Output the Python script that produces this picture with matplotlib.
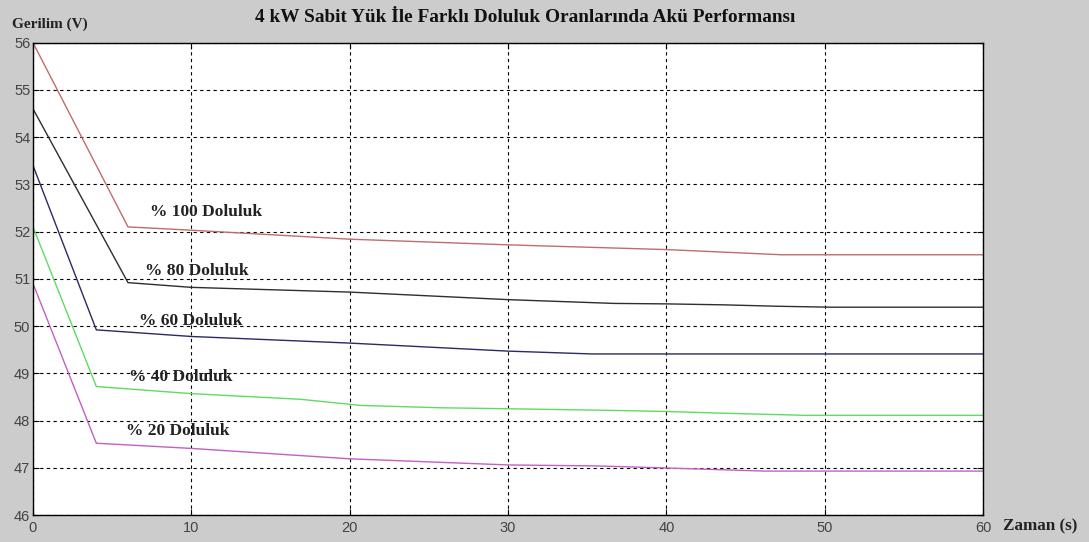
import numpy as np
import matplotlib.pyplot as plt

# ---------------------------------------------
# Data
# ---------------------------------------------
t_100 = [0, 6, 10, 20, 30, 40, 47.3, 60]
v_100 = [56.0, 52.1, 52.03, 51.84, 51.72, 51.62, 51.51, 51.51]

t_80 = [0, 6, 10, 20, 30, 36.7, 40, 43.6, 47, 50.4, 60]
v_80 = [54.6, 50.92, 50.82, 50.72, 50.56, 50.48, 50.47, 50.45, 50.42, 50.40, 50.40]

t_60 = [0, 4, 10, 20, 30, 35.3, 60]
v_60 = [53.4, 49.92, 49.78, 49.64, 49.47, 49.41, 49.41]

t_40 = [0, 4, 10, 16.9, 20.7, 25.8, 30, 37.4, 40.2, 43.1, 48.8, 60]
v_40 = [52.1, 48.72, 48.57, 48.45, 48.32, 48.27, 48.25, 48.21, 48.19, 48.16, 48.11, 48.11]

t_20 = [0, 4, 10, 20, 30, 35.5, 38.6, 46.2, 60]
v_20 = [50.9, 47.52, 47.41, 47.19, 47.06, 47.04, 47.01, 46.93, 46.93]

series = [
    (t_100, v_100, "#c26b6b"),
    (t_80, v_80, "#2e2e2e"),
    (t_60, v_60, "#2a2a66"),
    (t_40, v_40, "#5fdc5f"),
    (t_20, v_20, "#c45fc4"),
]

labels = ["% 100 Doluluk", "% 80 Doluluk", "% 60 Doluluk", "% 40 Doluluk", "% 20 Doluluk"]
label_t = [7.4, 7.1, 6.7, 6.05, 5.85]
label_v = [52.42, 51.17, 50.1, 48.93, 47.78]

xticks = [0, 10, 20, 30, 40, 50, 60]
yticks = [46, 47, 48, 49, 50, 51, 52, 53, 54, 55, 56]

# ---------------------------------------------
# Plot
# ---------------------------------------------
bg = "#cccccc"
serif = ["Liberation Serif", "DejaVu Serif"]

fig = plt.figure(figsize=(10.89, 5.42), dpi=100, facecolor=bg)
ax = fig.add_axes([0.0303, 0.0498, 0.8724, 0.8714])
ax.set_facecolor("white")

for t, v, c in series:
    ax.plot(t, v, color=c, linewidth=1.0)

for lab, lt, lv in zip(labels, label_t, label_v):
    ax.text(lt, lv, lab, fontsize=12.5, fontweight="bold", family=serif,
            color="#222222", ha="left", va="center")

ax.set_xlim(0, 60)
ax.set_ylim(46, 56)
ax.set_xticks(xticks)
ax.set_yticks(yticks)
ax.grid(True, color="black", linestyle=(0, (3, 3)), linewidth=0.8)
ax.tick_params(direction="in", length=4, top=True, right=True,
               labelsize=10.5, labelcolor="#444444")
ax.tick_params(axis="x", pad=4)
ax.tick_params(axis="y", pad=2)
for lbl in ax.get_xticklabels() + ax.get_yticklabels():
    lbl.set_family(["Liberation Sans", "DejaVu Sans"])
for s in ax.spines.values():
    s.set_color("black")
    s.set_linewidth(1.0)

fig.text(0.482, 0.968, "4 kW Sabit Yük İle Farklı Doluluk Oranlarında Akü Performansı",
         fontsize=13.9, fontweight="bold", family=serif, color="#111111",
         ha="center", va="center")
fig.text(0.011, 0.955, "Gerilim (V)", fontsize=11, fontweight="bold", family=serif,
         color="#222222", ha="left", va="center")
fig.text(0.921, 0.029, "Zaman (s)", fontsize=12.3, fontweight="bold", family=serif,
         color="#222222", ha="left", va="center")

fig.savefig("out.png", dpi=100, facecolor=bg)
